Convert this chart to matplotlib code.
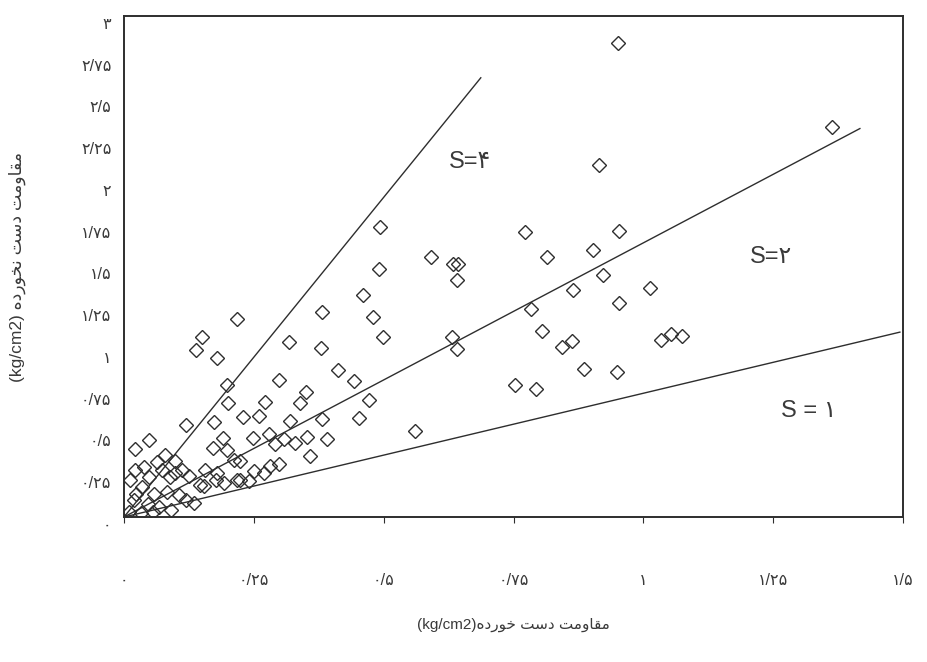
import matplotlib
matplotlib.use("Agg")
import matplotlib.pyplot as plt
import matplotlib.transforms as mtransforms

plt.rcParams['font.family'] = ['Liberation Sans', 'DejaVu Sans']

# ---------------- data ----------------
x_disturbed = [
    0.951, 1.363, 0.914, 0.492, 0.773, 0.954, 0.591, 0.633, 0.643, 0.814,
    0.903, 0.491, 0.642, 0.461, 0.923, 0.865, 1.013, 0.479, 0.783, 0.953,
    0.381, 0.218, 0.499, 0.632, 0.641, 0.804, 0.863, 0.843, 1.034, 1.054,
    1.075, 0.885, 0.950, 0.753, 0.794, 0.442, 0.472, 0.452, 0.561, 0.317,
    0.380, 0.412, 0.298, 0.351, 0.339, 0.271, 0.229, 0.260, 0.319, 0.381,
    0.248, 0.280, 0.309, 0.330, 0.353, 0.390, 0.290, 0.358, 0.151, 0.139,
    0.179, 0.198, 0.201, 0.119, 0.049, 0.022, 0.173, 0.190, 0.172, 0.199,
    0.212, 0.079, 0.098, 0.064, 0.112, 0.125, 0.021, 0.048, 0.011, 0.073,
    0.088, 0.146, 0.155, 0.179, 0.178, 0.192, 0.217, 0.034, 0.057, 0.082,
    0.105, 0.120, 0.135, 0.020, 0.047, 0.068, 0.010, 0.033, 0.056, 0.091,
    0.024, 0.039, 0.156, 0.098, 0.223, 0.250, 0.269, 0.281, 0.298, 0.223,
    0.240,
]
y_undisturbed = [
    2.838, 2.334, 2.109, 1.739, 1.706, 1.713, 1.556, 1.513, 1.513, 1.555,
    1.600, 1.487, 1.417, 1.327, 1.450, 1.362, 1.369, 1.200, 1.245, 1.281,
    1.228, 1.185, 1.080, 1.076, 1.004, 1.112, 1.056, 1.015, 1.057, 1.098,
    1.085, 0.888, 0.868, 0.790, 0.765, 0.812, 0.698, 0.590, 0.515, 1.050,
    1.012, 0.879, 0.823, 0.749, 0.684, 0.686, 0.597, 0.602, 0.577, 0.587,
    0.471, 0.500, 0.469, 0.444, 0.480, 0.466, 0.440, 0.366, 1.079, 1.001,
    0.952, 0.790, 0.682, 0.553, 0.460, 0.407, 0.569, 0.473, 0.413, 0.401,
    0.341, 0.369, 0.338, 0.328, 0.284, 0.247, 0.281, 0.238, 0.221, 0.279,
    0.237, 0.193, 0.187, 0.263, 0.222, 0.203, 0.220, 0.178, 0.136, 0.147,
    0.129, 0.104, 0.086, 0.101, 0.077, 0.058, 0.029, 0.023, 0.028, 0.039,
    0.137, 0.299, 0.283, 0.266, 0.334, 0.273, 0.261, 0.308, 0.319, 0.220,
    0.214,
]

# hand-drawn sensitivity lines: start and end points (x, y)
s_line_names = ["S=4", "S=2", "S=1"]
s_line_x = [[0.0, 0.687], [0.0, 1.417], [0.0, 1.494]]
s_line_y = [[0.0, 2.63], [0.0, 2.326], [0.0, 1.107]]

s_label_text = ["S=\u06f4", "S=\u06f2", "S = \u06f1"]
s_label_x = [0.667, 1.245, 1.319]
s_label_y = [2.127, 1.554, 0.632]

x_ticks = [0, 0.25, 0.5, 0.75, 1.0, 1.25, 1.5]
x_tick_labels = ["\u06f0", "\u06f0/\u06f2\u06f5", "\u06f0/\u06f5", "\u06f0/\u06f7\u06f5",
                 "\u06f1", "\u06f1/\u06f2\u06f5", "\u06f1/\u06f5"]
y_ticks = [0, 0.25, 0.5, 0.75, 1.0, 1.25, 1.5, 1.75, 2.0, 2.25, 2.5, 2.75, 3.0]
y_tick_labels = ["\u06f0", "\u06f0/\u06f2\u06f5", "\u06f0/\u06f5", "\u06f0/\u06f7\u06f5",
                 "\u06f1", "\u06f1/\u06f2\u06f5", "\u06f1/\u06f5", "\u06f1/\u06f7\u06f5",
                 "\u06f2", "\u06f2/\u06f2\u06f5", "\u06f2/\u06f5", "\u06f2/\u06f7\u06f5", "\u06f3"]

x_label_fa = "مقاومت دست خورده"
y_label_fa = "مقاومت دست نخورده"
unit = "(kg/cm2)"

# ---------------- minimal Persian shaping (matplotlib has no RTL shaping) ----------------
FORMS = {
    'ا': ('\uFE8D', '\uFE8E', None, None),
    'د': ('\uFEA9', '\uFEAA', None, None),
    'ر': ('\uFEAD', '\uFEAE', None, None),
    'و': ('\uFEED', '\uFEEE', None, None),
    'ت': ('\uFE95', '\uFE96', '\uFE97', '\uFE98'),
    'خ': ('\uFEA5', '\uFEA6', '\uFEA7', '\uFEA8'),
    'س': ('\uFEB1', '\uFEB2', '\uFEB3', '\uFEB4'),
    'ق': ('\uFED5', '\uFED6', '\uFED7', '\uFED8'),
    'م': ('\uFEE1', '\uFEE2', '\uFEE3', '\uFEE4'),
    'ن': ('\uFEE5', '\uFEE6', '\uFEE7', '\uFEE8'),
    'ه': ('\uFEE9', '\uFEEA', '\uFEEB', '\uFEEC'),
}


def shape_rtl(text):
    out = []
    for i, c in enumerate(text):
        f = FORMS.get(c)
        if f is None:
            out.append(c)
            continue
        prev = text[i - 1] if i > 0 else None
        nxt = text[i + 1] if i + 1 < len(text) else None
        join_prev = prev in FORMS and FORMS[prev][2] is not None
        join_next = f[2] is not None and nxt in FORMS
        if join_prev and join_next:
            out.append(f[3])
        elif join_prev:
            out.append(f[1])
        elif join_next:
            out.append(f[2])
        else:
            out.append(f[0])
    return ''.join(reversed(out))


# ---------------- figure ----------------
ink = '#2e2e2e'
txt = '#3a3a3a'
fig = plt.figure(figsize=(9.27, 6.62), dpi=100)
ax = fig.add_axes([124 / 927, 1 - 517 / 662, 779 / 927, 501 / 662])

for lx, ly in zip(s_line_x, s_line_y):
    ax.plot(lx, ly, color=ink, lw=1.0, zorder=2)

ax.plot(x_disturbed, y_undisturbed, linestyle='none', marker='D', markersize=7.2,
        markerfacecolor='none', markeredgecolor=ink, markeredgewidth=1.0, zorder=3)

for t, tx, ty in zip(s_label_text, s_label_x, s_label_y):
    ax.text(tx, ty, t, ha='center', va='center', fontsize=17, color=txt)

ax.set_xlim(0, 1.5)
ax.set_ylim(0, 3)
ax.set_xticks(x_ticks)
ax.set_xticklabels(x_tick_labels)
ax.set_yticks(y_ticks)
ax.set_yticklabels(y_tick_labels)
ax.tick_params(axis='x', length=4, direction='out', pad=36, labelsize=11.5,
               labelcolor=txt, color=ink)
ax.tick_params(axis='y', length=0, pad=9, labelsize=11.5, labelcolor=txt)

# the scanned labels sit a little below their tick positions
shift = mtransforms.ScaledTranslation(0, -5 / 72, fig.dpi_scale_trans)
for lab in ax.get_yticklabels():
    lab.set_transform(lab.get_transform() + shift)

for sp in ax.spines.values():
    sp.set_color(ink)
    sp.set_linewidth(1.4)

ax.set_xlabel(unit + shape_rtl(x_label_fa), fontsize=11, color=txt, labelpad=22)
ax.set_ylabel(unit + " " + shape_rtl(y_label_fa), fontsize=12.5, color=txt, labelpad=40)

fig.savefig('out.png', dpi=100, facecolor='white')
